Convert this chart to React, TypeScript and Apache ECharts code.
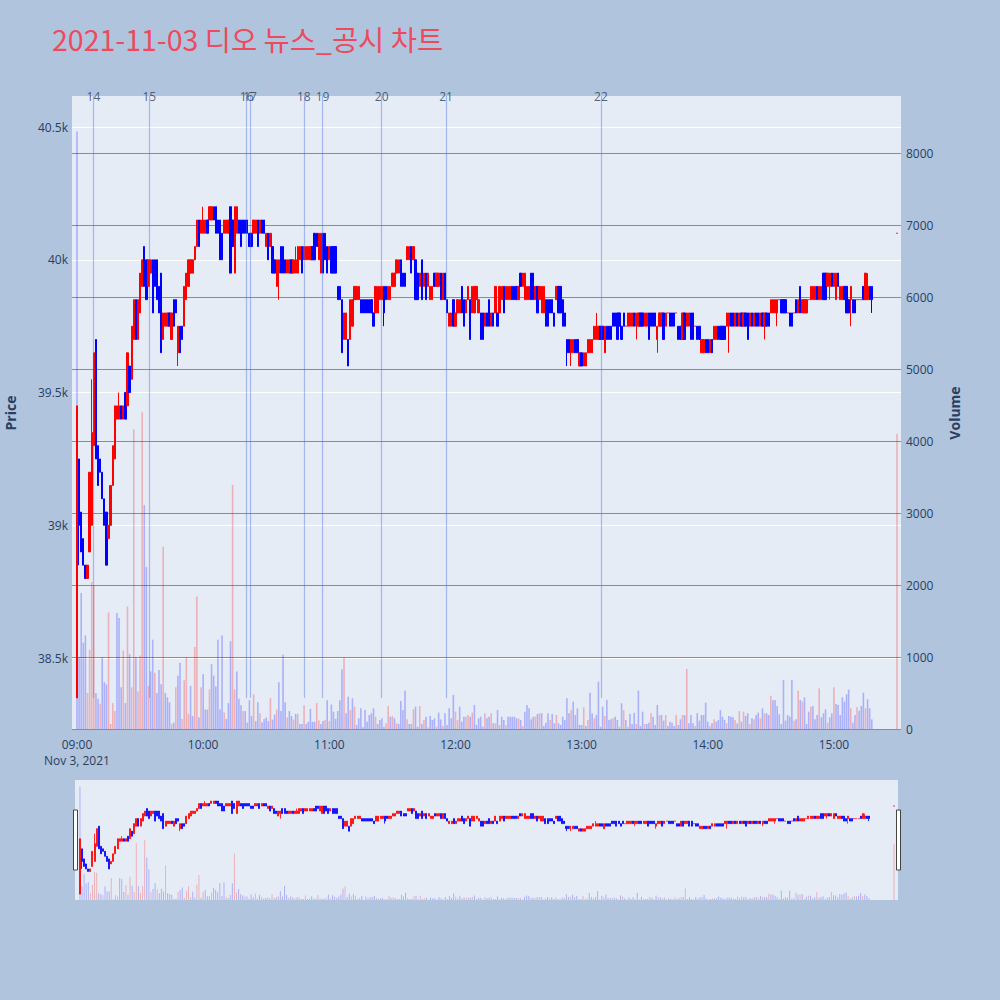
import React, { useEffect, useRef } from 'react';
import * as echarts from 'echarts';

// ---- data (per-minute candles from 09:00, index = minutes after 09:00) ----
const opens = [
  38350, 39250, 39050, 38950, 38850, 38800, 38900, 39000, 39300, 39700,
  39300, 39250, 39200, 39100, 39050, 38950, 39000, 39150, 39250, 39400,
  39400, 39450, 39400, 39500, 39450, 39600, 39550, 39700, 39850, 39700,
  39800, 39900, 40050, 40000, 39900, 39950, 40000, 40000, 40000, 39900,
  39950, 39700, 39750, 39750, 39800, 39700, 39850, 39850, 39650, 39750,
  39750, 39750, 39850, 39900, 39950, 39950, 40000, 40050, 40150, 40100,
  40100, 40100, 40150, 40150, 40150, 40200, 40200, 40150, 40150, 40100,
  40100, 40100, 40100, 40200, 40150, 39950, 40100, 40150, 40150, 40150,
  40150, 40150, 40100, 40100, 40100, 40100, 40150, 40100, 40150, 40150,
  40050, 40100, 40050, 40050, 40000, 39900, 39950, 40050, 40050, 40000,
  39950, 39950, 40000, 39950, 39950, 39950, 40000, 40050, 40000, 40000,
  40000, 40000, 40050, 40100, 40100, 40000, 39950, 40100, 40100, 40050,
  40000, 40050, 40050, 40050, 39900, 39900, 39850, 39700, 39700, 39700,
  39700, 39750, 39850, 39850, 39850, 39850, 39850, 39850, 39850, 39850,
  39850, 39800, 39800, 39800, 39850, 39850, 39900, 39900, 39850, 39850,
  39900, 39900, 39950, 39950, 40000, 39950, 39950, 40000, 40000, 40050,
  40000, 40000, 39950, 39900, 40000, 39900, 39950, 39900, 39850, 39850,
  39950, 39900, 39900, 39950, 39850, 39950, 39850, 39750, 39750, 39850,
  39750, 39800, 39800, 39900, 39850, 39800, 39850, 39850, 39800, 39800,
  39850, 39800, 39800, 39800, 39750, 39800, 39850, 39750, 39800, 39800,
  39800, 39800, 39850, 39900, 39850, 39850, 39850, 39900, 39900, 39900,
  39850, 39950, 39900, 39850, 39850, 39850, 39950, 39950, 39850, 39900,
  39850, 39800, 39800, 39850, 39850, 39850, 39850, 39800, 39850, 39900,
  39900, 39850, 39800, 39700, 39700, 39650, 39650, 39700, 39700, 39600,
  39650, 39600, 39600, 39650, 39650, 39650, 39700, 39700, 39700, 39750,
  39750, 39650, 39750, 39750, 39750, 39800, 39800, 39800, 39800, 39750,
  39800, 39750, 39750, 39750, 39750, 39800, 39750, 39750, 39800, 39800,
  39750, 39750, 39800, 39800, 39800, 39800, 39700, 39750, 39750, 39800,
  39750, 39800, 39800, 39800, 39800, 39800, 39750, 39750, 39700, 39800,
  39750, 39750, 39800, 39800, 39750, 39750, 39750, 39650, 39650, 39700,
  39700, 39650, 39700, 39700, 39700, 39750, 39750, 39750, 39750, 39750,
  39750, 39800, 39800, 39750, 39800, 39750, 39800, 39750, 39800, 39800,
  39750, 39800, 39750, 39800, 39800, 39750, 39800, 39750, 39800, 39800,
  39800, 39800, 39800, 39800, 39850, 39850, 39850, 39850, 39800, 39800,
  39800, 39800, 39850, 39800, 39900, 39800, 39800, 39800, 39850, 39850,
  39850, 39850, 39900, 39850, 39850, 39950, 39950, 39900, 39900, 39950,
  39900, 39850, 39950, 39850, 39850, 39900, 39900, 39850, 39850, 39850,
  39850, 39850, 39850, 39850, 39900, 39850, 39850, 39900, 39900,
];
const closes = [
  39450, 39000, 38900, 38850, 38800, 38850, 39200, 39350, 39650, 39250,
  39150, 39200, 39100, 39000, 38850, 39000, 39150, 39300, 39450, 39450,
  39450, 39400, 39450, 39400, 39650, 39500, 39750, 39850, 39700, 39850,
  39950, 40000, 39900, 39850, 40000, 40000, 39800, 39900, 39850, 39800,
  39650, 39800, 39800, 39800, 39750, 39800, 39750, 39800, 39750, 39650,
  39700, 39900, 39950, 40000, 40000, 40000, 40050, 40150, 40050, 40150,
  40150, 40150, 40100, 40200, 40200, 40150, 40100, 40100, 40000, 40000,
  40150, 40150, 40150, 39950, 40050, 40200, 40200, 40100, 40050, 40100,
  40100, 40100, 40050, 40050, 40150, 40150, 40050, 40150, 40100, 40100,
  40100, 40000, 40100, 39950, 39950, 40000, 40000, 39950, 39950, 39950,
  40000, 40000, 39950, 40000, 40000, 40050, 40050, 39950, 40050, 40050,
  40050, 40050, 40000, 40000, 40050, 40100, 40100, 39950, 40000, 39950,
  40050, 39950, 39950, 39950, 39850, 39850, 39650, 39800, 39800, 39600,
  39850, 39850, 39900, 39900, 39900, 39800, 39800, 39800, 39800, 39800,
  39800, 39750, 39900, 39900, 39900, 39900, 39800, 39850, 39900, 39900,
  39950, 39950, 40000, 40000, 39900, 39900, 39900, 40050, 40050, 39950,
  40050, 39850, 39850, 39950, 39850, 39950, 39850, 39950, 39900, 39900,
  39900, 39950, 39950, 39850, 39950, 39850, 39800, 39800, 39800, 39750,
  39800, 39850, 39850, 39800, 39750, 39850, 39900, 39700, 39900, 39900,
  39900, 39850, 39700, 39700, 39800, 39750, 39750, 39800, 39750, 39900,
  39750, 39900, 39900, 39800, 39900, 39900, 39900, 39850, 39850, 39850,
  39900, 39900, 39950, 39950, 39900, 39900, 39850, 39850, 39900, 39800,
  39900, 39900, 39900, 39750, 39750, 39800, 39800, 39750, 39900, 39800,
  39800, 39750, 39750, 39650, 39650, 39700, 39700, 39650, 39650, 39650,
  39600, 39650, 39650, 39700, 39700, 39700, 39750, 39750, 39750, 39700,
  39700, 39750, 39700, 39700, 39700, 39750, 39750, 39700, 39750, 39700,
  39750, 39750, 39800, 39800, 39800, 39750, 39800, 39800, 39750, 39750,
  39800, 39800, 39700, 39750, 39750, 39750, 39750, 39800, 39800, 39700,
  39800, 39800, 39750, 39750, 39750, 39800, 39700, 39700, 39800, 39700,
  39800, 39800, 39700, 39700, 39750, 39700, 39700, 39700, 39700, 39650,
  39650, 39700, 39650, 39750, 39750, 39700, 39700, 39700, 39700, 39800,
  39800, 39750, 39750, 39800, 39750, 39800, 39750, 39800, 39750, 39700,
  39800, 39750, 39800, 39750, 39750, 39800, 39750, 39800, 39750, 39750,
  39850, 39850, 39850, 39850, 39850, 39800, 39800, 39800, 39800, 39750,
  39750, 39800, 39800, 39850, 39800, 39850, 39850, 39850, 39850, 39900,
  39900, 39900, 39850, 39900, 39900, 39850, 39850, 39950, 39950, 39900,
  39950, 39950, 39900, 39900, 39900, 39850, 39800, 39800, 39900, 39800,
  39800, 39850, 39850, 39850, 39850, 39950, 39900, 39850, 39850,
];
// [minute, price] wick extremes beyond the candle body
const wickHighs = [[7, 39550], [20, 39500], [60, 40200], [104, 40050], [247, 39800], [376, 39950]];
const wickLows = [
  [1, 38850], [48, 39600], [96, 39850], [146, 39750], [233, 39600], [235, 39600], [251, 39650],
  [266, 39700], [276, 39650], [310, 39650], [327, 39700], [333, 39750], [358, 39850], [368, 39750], [378, 39800],
];
const volumes = [
  8300, 1000, 1890, 1200, 1300, 500, 1100, 2040, 2000, 500,
  420, 350, 990, 650, 620, 1620, 70, 360, 250, 1610,
  1540, 580, 1090, 360, 1700, 1040, 580, 4160, 1000, 520,
  1020, 4400, 3110, 2250, 600, 800, 1240, 780, 500, 820,
  620, 2530, 500, 440, 370, 70, 90, 580, 740, 920,
  140, 680, 1000, 210, 600, 180, 1140, 1840, 160, 580,
  760, 270, 270, 550, 900, 740, 590, 1240, 270, 1300,
  230, 140, 360, 1220, 3390, 550, 800, 420, 330, 250,
  250, 90, 400, 180, 480, 110, 370, 220, 90, 140,
  160, 110, 430, 130, 200, 270, 650, 250, 1030, 370,
  160, 250, 180, 130, 210, 210, 70, 70, 330, 70,
  100, 280, 100, 100, 360, 120, 70, 110, 130, 400,
  110, 340, 240, 140, 250, 400, 830, 1000,
  218, 449, 264, 426, 310, 56, 148, 287, 23, 264,
  102, 194, 218, 287, 171, 70, 125, 148, 32, 79,
  320, 171, 181, 148, 79, 70, 389, 264, 533, 134,
  70, 70, 273, 310, 32, 320, 70, 125, 171, 23,
  181, 125, 148, 32, 227, 134, 42, 218, 56, 287,
  148, 473, 241, 125, 310, 102, 171, 171, 194, 171,
  227, 334, 56, 148, 171, 32, 218, 148, 171, 218,
  79, 79, 264, 56, 171, 125, 56, 171,
  171, 171, 171, 148, 148, 125, 42, 241, 334, 287,
  134, 171, 171, 209, 218, 218, 42, 88, 218, 125,
  209, 79, 194, 79, 56, 171, 125, 426, 218,
  264, 380, 194, 287, 56, 56, 301, 42, 125, 505,
  218, 148, 194, 658, 32, 310, 181, 403, 125, 134,
  148, 171, 125, 32, 357, 264, 125,
  32, 209, 70, 227, 70, 533, 42, 241, 70,
  70, 88, 218, 171, 56, 334, 194, 194, 116, 194,
  42, 102, 88, 42, 194, 56, 134, 194, 194, 834,
  79, 194, 79, 42, 218, 116, 194, 194, 366, 102,
  42, 79, 134, 102, 125, 264, 171, 125, 79,
  181, 171, 162, 125, 79, 250, 102, 241, 181,
  218, 70, 148, 134, 194, 227, 148, 287, 218,
  218, 194, 463, 398, 403, 320, 204, 70, 681,
  116, 194, 171, 681, 116, 134, 533, 403, 380, 440,
  70, 241, 310, 320, 134, 194, 565, 162, 218, 273,
  88, 162, 218, 579, 347, 334, 194, 440,
  380, 482, 547, 287, 88, 194, 301, 255, 320, 505,
  287, 412, 287, 134,
];
// closing auction (15:30)
const closeAuctionTime = '15:30';
const closeAuctionPrice = 40100;
const closeAuctionVolume = 4100;

// news / disclosure markers
const newsTimes = ['09:07:48', '09:34:24', '10:20:42', '10:22:18', '10:47:54', '10:56:48', '11:24:54', '11:55:30', '13:09:12'];
const newsLabels = ['14', '15', '16', '17', '18', '19', '20', '21', '22'];

const xTickLabels = ['09:00', '10:00', '11:00', '12:00', '13:00', '14:00', '15:00'];
const priceTicks = [38500, 39000, 39500, 40000, 40500];
const volumeTicks = [0, 1000, 2000, 3000, 4000, 5000, 6000, 7000, 8000];

const TITLE = '2021-11-03 디오 뉴스_공시 차트';

// ---- helpers ----
const toMin = (t: string) => {
  const [h, m, s] = t.split(':').map(Number);
  return (h - 9) * 60 + m + (s || 0) / 60;
};

const X_MIN = -2.38;
const X_MAX = 391.9;
const P_MIN = 38233;
const P_MAX = 40617;
const V_MAX = 8792;
const NEWS_LINE_BOTTOM = 38350;

function buildOption() {
  const n = Math.min(opens.length, closes.length);
  const hiMap = new Map(wickHighs.map(([m, p]) => [m, p]));
  const loMap = new Map(wickLows.map(([m, p]) => [m, p]));
  const candles: number[][] = [];
  const cls: number[] = [];
  for (let i = 0; i < n; i++) {
    const o = opens[i], c = closes[i];
    const h = Math.max(o, c, hiMap.get(i) ?? -Infinity);
    const l = Math.min(o, c, loMap.get(i) ?? Infinity);
    candles.push([i, o, c, l, h]);
    cls.push(c);
  }
  const aMin = toMin(closeAuctionTime);
  candles.push([aMin, closeAuctionPrice, closeAuctionPrice, closeAuctionPrice, closeAuctionPrice]);
  cls.push(closeAuctionPrice);

  const vols: number[] = [];
  for (let i = 0; i < n; i++) vols.push(volumes[i] ?? 0);
  vols.push(closeAuctionVolume);

  const RED_V = 'rgba(255,0,0,0.25)';
  const BLUE_V = 'rgba(0,0,255,0.25)';
  const volData = candles.map((cd, i) => {
    const up = i > 0 && cls[i] > cls[i - 1];
    return { value: [cd[0], vols[i]], itemStyle: { color: up ? RED_V : BLUE_V } };
  });

  const newsX = newsTimes.map(toMin);
  const tickMins = xTickLabels.map(toMin);
  const txt = '#2a3f5f';
  const font = '"Open Sans", verdana, arial, sans-serif';

  const candleStyle = {
    color: '#ff0000',
    color0: '#0000ff',
    borderColor: '#ff0000',
    borderColor0: '#0000ff',
    borderWidth: 1,
  };

  return {
    animation: false,
    backgroundColor: '#b0c4de',
    textStyle: { fontFamily: font },
    title: {
      text: TITLE,
      left: 47,
      top: 19,
      textStyle: {
        fontSize: 28.5,
        fontWeight: 'normal',
        color: '#ee4a5e',
        fontFamily: '"Noto Sans CJK KR", "Open Sans", sans-serif',
      },
    },
    grid: [
      { left: 72, right: 99, top: 96, bottom: 271, show: true, backgroundColor: '#e5ecf6', borderWidth: 0 },
      { left: 75, right: 102, top: 780, bottom: 100, show: true, backgroundColor: '#e5ecf6', borderWidth: 0 },
    ],
    xAxis: [
      {
        type: 'value',
        gridIndex: 0,
        min: X_MIN,
        max: X_MAX,
        axisLine: { show: false },
        axisTick: { show: false, customValues: tickMins },
        splitLine: { show: false },
        axisLabel: {
          customValues: tickMins,
          color: txt,
          fontSize: 12,
          margin: 7,
          lineHeight: 16,
          formatter: (v: number) => {
            const idx = tickMins.findIndex((t) => Math.abs(t - v) < 1e-6);
            const lab = idx >= 0 ? xTickLabels[idx] : '';
            return idx === 0 ? lab + '\nNov 3, 2021' : lab;
          },
        },
      },
      {
        type: 'value',
        gridIndex: 1,
        min: X_MIN,
        max: X_MAX,
        show: false,
        splitLine: { show: false },
      },
    ],
    yAxis: [
      {
        type: 'value',
        gridIndex: 0,
        min: P_MIN,
        max: P_MAX,
        splitNumber: 5,
        axisLine: { show: false },
        axisTick: { show: false, customValues: priceTicks },
        axisLabel: {
          customValues: priceTicks,
          color: txt,
          fontSize: 12,
          margin: 4,
          formatter: (v: number) => (v / 1000).toString() + 'k',
        },
        splitLine: { show: true, lineStyle: { color: '#ffffff', width: 1 } },
      },
      {
        type: 'value',
        gridIndex: 0,
        position: 'right',
        min: 0,
        max: V_MAX,
        axisLine: { show: false },
        axisTick: { show: false, customValues: volumeTicks },
        axisLabel: {
          customValues: volumeTicks,
          color: txt,
          fontSize: 12,
          margin: 5,
          formatter: (v: number) => String(v),
        },
        splitLine: { show: true, lineStyle: { color: '#8c8c8c', width: 1 } },
      },
      { type: 'value', gridIndex: 1, min: P_MIN, max: P_MAX, show: false, splitLine: { show: false } },
      { type: 'value', gridIndex: 1, min: 0, max: V_MAX, show: false, splitLine: { show: false } },
    ],
    series: [
      {
        type: 'candlestick',
        name: 'price',
        xAxisIndex: 0,
        yAxisIndex: 0,
        barWidth: 1.8,
        encode: { x: 0, y: [1, 2, 3, 4] },
        data: candles,
        itemStyle: candleStyle,
      },
      {
        type: 'bar',
        name: 'volume',
        xAxisIndex: 0,
        yAxisIndex: 1,
        barWidth: 1.6,
        data: volData,
      },
      {
        type: 'scatter',
        name: 'news',
        xAxisIndex: 0,
        yAxisIndex: 0,
        symbolSize: 0,
        silent: true,
        data: newsX.map((x, i) => [x, P_MAX - 2, newsLabels[i]]),
        label: {
          show: true,
          position: 'inside',
          formatter: (p: any) => p.value[2],
          color: txt,
          fontSize: 12,
        },
        markLine: {
          silent: true,
          symbol: ['none', 'none'],
          label: { show: false },
          lineStyle: { color: 'rgba(65,105,225,0.4)', width: 1.2, type: 'solid' },
          data: newsX.map((x) => [{ coord: [x, NEWS_LINE_BOTTOM] }, { coord: [x, P_MAX] }]),
        },
      },
      {
        type: 'candlestick',
        name: 'mini price',
        xAxisIndex: 1,
        yAxisIndex: 2,
        barWidth: 1.5,
        encode: { x: 0, y: [1, 2, 3, 4] },
        data: candles,
        itemStyle: { ...candleStyle, borderWidth: 0.8 },
      },
      {
        type: 'bar',
        name: 'mini volume',
        xAxisIndex: 1,
        yAxisIndex: 3,
        barWidth: 1,
        data: volData,
      },
    ],
    graphic: [
      {
        type: 'text',
        x: 10,
        y: 413,
        rotation: Math.PI / 2,
        style: { text: 'Price', font: 'bold 14px "Open Sans", sans-serif', fill: txt, textAlign: 'center', textVerticalAlign: 'middle' },
      },
      {
        type: 'text',
        x: 954,
        y: 413,
        rotation: Math.PI / 2,
        style: { text: 'Volume', font: 'bold 14px "Open Sans", sans-serif', fill: txt, textAlign: 'center', textVerticalAlign: 'middle' },
      },
      {
        type: 'rect',
        shape: { x: 73.5, y: 810, width: 4, height: 60 },
        style: { fill: '#ffffff', stroke: '#444444', lineWidth: 1 },
      },
      {
        type: 'rect',
        shape: { x: 896.5, y: 810, width: 4, height: 60 },
        style: { fill: '#ffffff', stroke: '#444444', lineWidth: 1 },
      },
    ],
  };
}

export default function App() {
  const ref = useRef<HTMLDivElement>(null);
  useEffect(() => {
    if (!ref.current) return;
    const chart = echarts.init(ref.current, null, { renderer: 'svg' });
    chart.setOption(buildOption() as any);
    return () => chart.dispose();
  }, []);
  return <div ref={ref} style={{ position: 'absolute', left: 0, top: 0, width: 1000, height: 1000 }} />;
}
